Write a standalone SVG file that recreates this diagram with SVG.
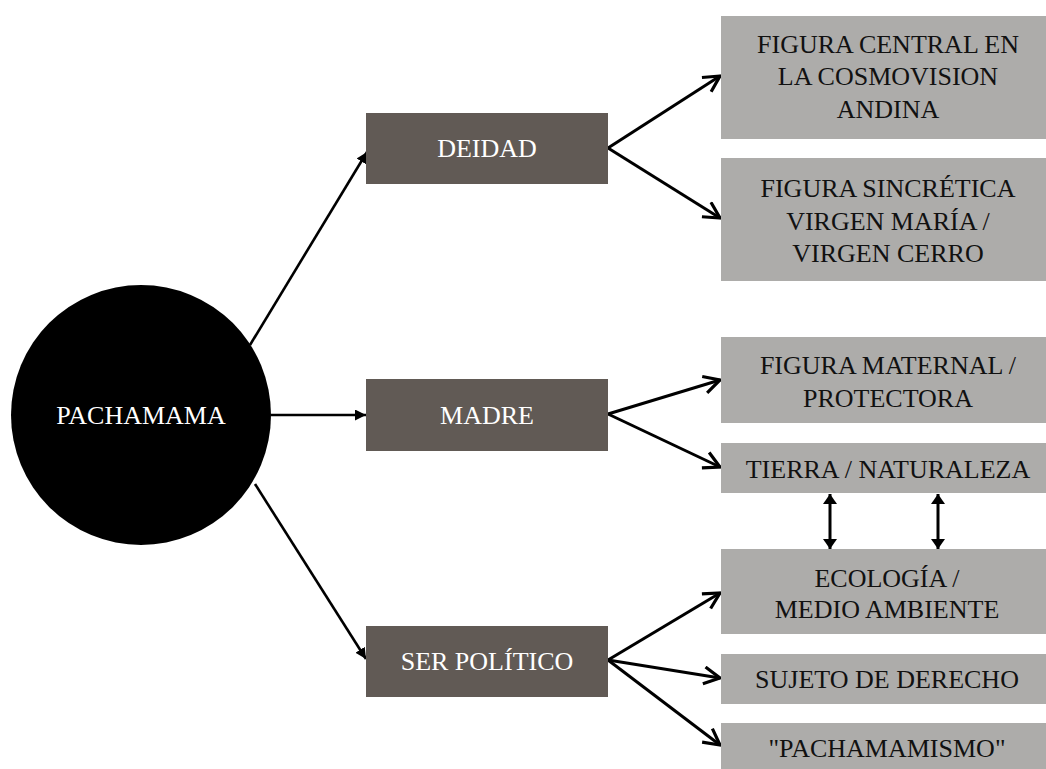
<svg xmlns="http://www.w3.org/2000/svg" width="1046" height="769" viewBox="0 0 1046 769">
<style>
text{font-family:"Liberation Serif","Times New Roman",serif;font-size:26px;text-anchor:middle}
.dk{fill:#615a55}
.lt{fill:#adacaa}
.w{fill:#ffffff}
.b{fill:#111111}
.ln{stroke:#000;stroke-width:3;fill:none}
.lc{stroke:#000;stroke-width:2.6;fill:none}
</style>
<defs>
<marker id="open" markerUnits="userSpaceOnUse" markerWidth="22" markerHeight="22" refX="17" refY="10" orient="auto" viewBox="0 0 22 22">
<path d="M1,1.5 L17,10 L1,18.5" fill="none" stroke="#000" stroke-width="3.2"/>
</marker>
<marker id="fill" markerUnits="userSpaceOnUse" markerWidth="12" markerHeight="12" refX="11" refY="5.5" orient="auto" viewBox="0 0 12 12">
<path d="M0,0 L11,5.5 L0,11 z" fill="#000"/>
</marker>
<marker id="fillv" markerUnits="userSpaceOnUse" markerWidth="16" markerHeight="16" refX="10" refY="8" orient="auto-start-reverse" viewBox="0 0 16 16">
<path d="M0,1 L10,8 L0,15 z" fill="#000"/>
</marker>
</defs>

<g id="connectors">
<line class="lc" x1="250" y1="345" x2="367" y2="152" marker-end="url(#fill)"/>
<line class="lc" x1="271" y1="415" x2="366" y2="415" marker-end="url(#fill)"/>
<line class="lc" x1="255" y1="484" x2="366" y2="659" marker-end="url(#fill)"/>
<line class="ln" x1="608" y1="148" x2="720" y2="76" marker-end="url(#open)"/>
<line class="ln" x1="608" y1="148" x2="720" y2="218" marker-end="url(#open)"/>
<line class="ln" x1="608" y1="414" x2="720" y2="380" marker-end="url(#open)"/>
<line class="ln" x1="608" y1="414" x2="720" y2="467" marker-end="url(#open)"/>
<line class="ln" x1="608" y1="660" x2="720" y2="593" marker-end="url(#open)"/>
<line class="ln" x1="608" y1="660" x2="720" y2="678" marker-end="url(#open)"/>
<line class="ln" x1="608" y1="660" x2="720" y2="745" marker-end="url(#open)"/>
<line class="ln" x1="830" y1="494" x2="830" y2="549" marker-start="url(#fillv)" marker-end="url(#fillv)"/>
<line class="ln" x1="938" y1="494" x2="938" y2="549" marker-start="url(#fillv)" marker-end="url(#fillv)"/>
</g>

<g id="pachamama">
<circle cx="141" cy="415" r="130" fill="#000"/>
<text class="w" x="141" y="424" font-size="25.5">PACHAMAMA</text>
</g>

<g id="deidad">
<rect class="dk" x="366" y="113" width="242" height="71"/>
<text class="w" x="487" y="157">DEIDAD</text>
</g>
<g id="madre">
<rect class="dk" x="366" y="379" width="242" height="72"/>
<text class="w" x="487" y="424">MADRE</text>
</g>
<g id="ser-politico">
<rect class="dk" x="366" y="626" width="242" height="71"/>
<text class="w" x="487" y="670">SER POLÍTICO</text>
</g>

<g id="figura-central">
<rect class="lt" x="721" y="16" width="332" height="123"/>
<text class="b" x="888" y="53">FIGURA CENTRAL EN</text>
<text class="b" x="888" y="85">LA COSMOVISION</text>
<text class="b" x="888" y="118">ANDINA</text>
</g>
<g id="figura-sincretica">
<rect class="lt" x="721" y="158" width="332" height="123"/>
<text class="b" x="888" y="197">FIGURA SINCRÉTICA</text>
<text class="b" x="888" y="230">VIRGEN MARÍA /</text>
<text class="b" x="888" y="262">VIRGEN CERRO</text>
</g>
<g id="figura-maternal">
<rect class="lt" x="721" y="337" width="332" height="86"/>
<text class="b" x="888" y="374">FIGURA MATERNAL /</text>
<text class="b" x="888" y="407">PROTECTORA</text>
</g>
<g id="tierra">
<rect class="lt" x="721" y="443" width="332" height="50"/>
<text class="b" x="888" y="478">TIERRA / NATURALEZA</text>
</g>
<g id="ecologia">
<rect class="lt" x="721" y="549" width="332" height="85"/>
<text class="b" x="887" y="587">ECOLOGÍA /</text>
<text class="b" x="887" y="618">MEDIO AMBIENTE</text>
</g>
<g id="sujeto">
<rect class="lt" x="721" y="654" width="332" height="50"/>
<text class="b" x="887" y="688">SUJETO DE DERECHO</text>
</g>
<g id="pachamamismo">
<rect class="lt" x="721" y="723" width="332" height="46"/>
<text class="b" x="887" y="757">"PACHAMAMISMO"</text>
</g>
</svg>
